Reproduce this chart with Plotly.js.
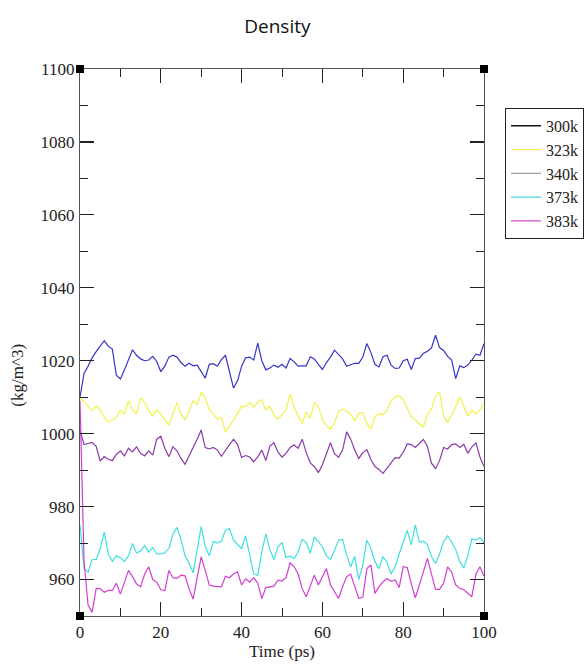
<!DOCTYPE html>
<html>
<head>
<meta charset="utf-8">
<script src="https://cdn.plot.ly/plotly-3.0.1.min.js"></script>
<style>html,body{margin:0;padding:0;background:#fff;}#chart{width:584px;height:668px;}</style>
</head>
<body>
<div id="chart"></div>
<script>
const timePs = [0,1,2,3,4,5,6,7,8,9,10,11,12,13,14,15,16,17,18,19,20,21,22,23,24,25,26,27,28,29,30,31,32,33,34,35,36,37,38,39,40,41,42,43,44,45,46,47,48,49,50,51,52,53,54,55,56,57,58,59,60,61,62,63,64,65,66,67,68,69,70,71,72,73,74,75,76,77,78,79,80,81,82,83,84,85,86,87,88,89,90,91,92,93,94,95,96,97,98,99,100];

const seriesNames = ["300k","323k","340k","373k","383k"];

const d300 = [1010,1016.5,1018.5,1020.8,1022.5,1024,1025.5,1024,1023.2,1016,1015,1017.5,1020,1023,1021.5,1020.5,1020,1020.2,1021.2,1019.8,1017,1018.5,1021,1021.5,1021,1019.5,1018.5,1019.3,1018.6,1018.8,1017,1015.2,1019,
1019.2,1018.5,1020.3,1021.5,1017,1012.5,1014.5,1018.5,1020.8,1021,1020.2,1024.8,1020,1017.5,1018,1018.8,1018.2,1019,1018,1020.6,1019.7,1018.5,1018.6,1018.6,1021.1,1020.5,1019,1017.6,1019.5,1021,1022.9,1021.6,1020.5,1018.5,
1018.8,1019.3,1019.3,1021,1024.7,1022.3,1019,1018.3,1021.1,1021.5,1018.8,1017.9,1018,1020,1020.4,1017.6,1020.6,1020.7,1022,1022.6,1023.5,1027,1023.6,1022.8,1021.2,1020.2,1015.1,1018.6,1018.1,1018.8,1020.2,1021.8,1021.5,1024.7];

const d323 = [1010,1008.5,1007.5,1006.3,1007.6,1006.5,1004.5,1003.2,1003.8,1004.5,1006.5,1005.5,1009,1006.5,1005.5,1009.8,1008.6,1006.3,1004.8,1006.5,1005.5,1003.7,1002.3,1005.5,1008.5,1005.5,1003.8,1006.2,1009,1008,1011.3,1010,1006.5,
1005.5,1004,1004.5,1000.5,1002,1003.8,1005.5,1007.5,1007.4,1008.6,1007.3,1008.6,1009.3,1006.5,1007.5,1005.1,1004,1005.4,1006.5,1010.8,1007.3,1004.8,1002.8,1006,1004.2,1008.5,1007.5,1003.8,1002.2,1001.2,1003,1006,1006.8,1006,
1005.4,1003.5,1005.5,1005.8,1002.8,1001.2,1004.6,1005.5,1005.2,1006.5,1009,1010.1,1010.5,1009.2,1006.8,1004.8,1003.7,1002.6,1001.8,1005.3,1006.8,1010.2,1011.5,1004.8,1003,1005.1,1007.3,1010.1,1007.4,1004.8,1006.3,1005.5,1006.5,1008.3];

const d340 = [1001,997,997.3,997.6,996.5,992.5,993.7,993,992.6,994.3,995.3,993.9,996,995,996.4,994.6,993.9,995.3,994.1,998.5,999.3,996,993.7,996.4,995.3,993.2,991.6,993.7,996.2,998.5,1001,996.2,995.8,
996.2,995.5,993.8,995.5,997,998.5,997,993.5,994,993.6,992.3,993.6,995.5,992.6,996.6,997.5,995,993.6,994.6,996.2,996.9,996,998.5,994.8,992,991,989.3,991.5,994.5,997.5,994.5,993.5,995.5,1000.5,
998.5,995.5,993.2,994.8,995.6,992.9,991,990.2,989.1,990.5,992,993.4,993.3,994.9,997.2,997,996.2,997.2,998.4,996.5,991.9,990.4,992.6,996.2,995.8,997,997.2,996.2,997.1,994.6,996.4,997.5,993.6,991];

const d373 = [975,963,962,965.5,965.5,968.5,973,967,965,966.5,966,965,966.5,969.9,967.3,967.8,969.3,967.5,968.8,967,967,967.3,968.5,972.5,974.3,971,966.5,964.5,961.8,968,974.5,969,966.5,
970.5,970,970.5,973.5,974,970.8,969.6,968.5,972,966.5,961.5,961.2,967.6,972.5,968.2,965.5,968.9,970.2,966,966.4,965.7,967.6,971,970.2,967.2,971.7,970.5,969,966.5,965.5,968,970.8,971,966.7,
963.5,966.3,960,964,970.8,968.5,964.9,963,966.3,964.6,961.5,963.5,967,970,973.5,969.5,975,970.2,970.5,969.5,966.3,964.4,967,970.5,972,970.3,968.2,964.9,963.2,966.5,971.2,970.8,971.5,970];

const d383 = [1009,965,953,951,957.5,957.5,956.5,957,957,959,956,959.5,962.5,960.8,958.8,958,961.5,963.5,960,959.3,957.2,957,962.5,960.5,960.3,961.2,961,957.5,954.6,960.5,966.2,962.5,958.5,
958.2,958,958,960.9,960.5,961.6,962.1,958.5,960.2,959.3,960.5,959,954.8,957.8,958,958.2,959.8,959.6,960.5,964.6,963.5,961.5,957.5,955.3,958.2,961.2,958.5,961,963,958.5,956.5,954.8,958,960.8,
961.5,958,954.8,955.2,963,964,956.2,958,959.4,960.2,959.5,959.9,957.8,963.5,963.3,958.8,955,958.5,961.9,965.8,961.5,957.3,957.3,959,963.5,962,958.5,957.6,957.2,956.2,955.3,961.5,963.5,961];

const seriesValues = [d300, d323, d340, d373, d383];
const lineColors = ["#3535c8", "#f2f24a", "#8a3aa8", "#3fe0e0", "#d23fd2"];
const legendColors = ["#111111", "#f0f060", "#a0a0a0", "#50d8d8", "#d050d0"];

const xTickVals = [0,20,40,60,80,100];
const yTickVals = [960,980,1000,1020,1040,1060,1080,1100];

const traces = [];
seriesValues.forEach((vals, i) => {
  traces.push({
    x: timePs, y: vals, type: "scatter", mode: "lines",
    line: {color: lineColors[i], width: 1.2},
    name: seriesNames[i], showlegend: false, hoverinfo: "skip"
  });
});
seriesNames.forEach((nm, i) => {
  traces.push({
    x: [null], y: [null], type: "scatter", mode: "lines",
    line: {color: legendColors[i], width: 1.3},
    name: nm, showlegend: true
  });
});

const serif = "Liberation Serif, Times New Roman, serif";

const axisCommon = {
  showgrid: false, zeroline: false, showline: true, linecolor: "#555", linewidth: 1.2,
  mirror: "allticks", ticks: "inside", ticklen: 14, tickwidth: 1.2, tickcolor: "#222",
  tickfont: {family: serif, size: 17, color: "#222"}
};

const layout = {
  width: 584, height: 668,
  paper_bgcolor: "#fff", plot_bgcolor: "#fff",
  margin: {l: 80, r: 100, t: 69, b: 52, autoexpand: false},
  title: {text: "Density", font: {family: "Open Sans, Noto Sans, sans-serif", size: 19, color: "#111"}, x: 0.475, xanchor: "center", y: 0.96, yanchor: "middle"},
  xaxis: Object.assign({}, axisCommon, {
    range: [0, 100], tickvals: xTickVals, ticktext: xTickVals.map(String),
    minor: {dtick: 10, tick0: 0, ticks: "inside", ticklen: 8, tickcolor: "#222", tickwidth: 1},
    title: {text: "Time (ps)", font: {family: serif, size: 17, color: "#222"}, standoff: 4}
  }),
  yaxis: Object.assign({}, axisCommon, {
    range: [950, 1100], tickvals: yTickVals, ticktext: yTickVals.map(String),
    minor: {dtick: 10, tick0: 950, ticks: "inside", ticklen: 8, tickcolor: "#222", tickwidth: 1},
    ticklabelstandoff: 1
  }),
  showlegend: true,
  legend: {
    x: 1.052, y: 0.929, xanchor: "left", yanchor: "top",
    bordercolor: "#222", borderwidth: 1, bgcolor: "#fff",
    font: {family: serif, size: 16, color: "#222"},
    itemwidth: 30, tracegroupgap: 0, traceorder: "normal"
  },
  annotations: [{
    text: "(kg/m^3)", textangle: -90, xref: "paper", yref: "paper",
    x: -0.155, y: 0.44, xanchor: "center", yanchor: "middle", showarrow: false,
    font: {family: serif, size: 17, color: "#222"}
  }],
  shapes: [[0,0],[1,0],[0,1],[1,1]].map(c => ({
    type: "rect", xref: "paper", yref: "paper", xsizemode: "pixel", ysizemode: "pixel",
    xanchor: c[0], yanchor: c[1], x0: -4, x1: 4, y0: -4, y1: 4,
    fillcolor: "#000", line: {width: 0}
  }))
};

Plotly.newPlot("chart", traces, layout, {displayModeBar: false, staticPlot: true});
</script>
</body>
</html>
